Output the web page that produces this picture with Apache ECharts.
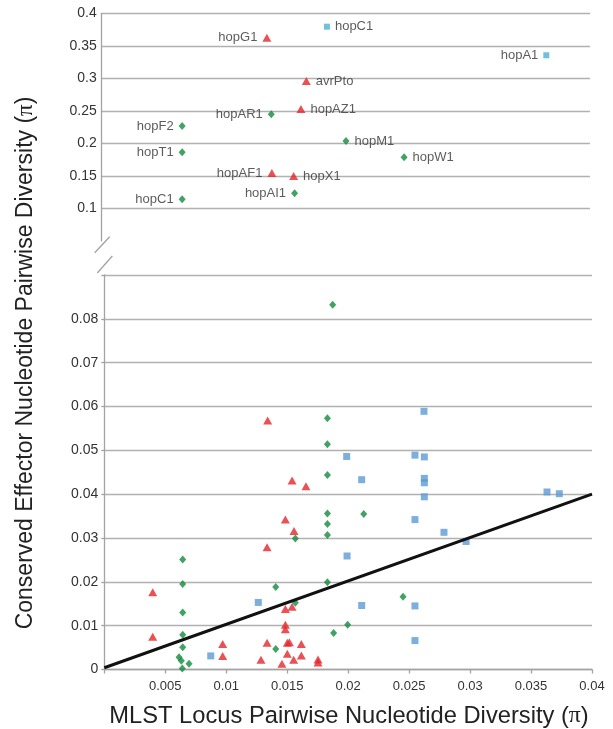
<!DOCTYPE html>
<html><head><meta charset="utf-8">
<script src="https://cdn.jsdelivr.net/npm/echarts@6/dist/echarts.min.js"></script>
<style>html,body{margin:0;padding:0;background:#fff}#c{width:613px;height:729px}</style>
</head><body><div id="c"></div>
<script>
// ---------- data: upper (broken) panel, labelled effectors ----------
const topRedNames = ['hopG1', 'avrPto', 'hopAZ1', 'hopAF1', 'hopX1'];
const topRedX = [0.01353, 0.01676, 0.01632, 0.01394, 0.01572];
const topRedY = [0.3625, 0.2958, 0.2528, 0.1543, 0.1497];

const topGreenNames = ['hopAR1', 'hopF2', 'hopT1', 'hopM1', 'hopW1', 'hopAI1', 'hopC1'];
const topGreenX = [0.01389, 0.00659, 0.00659, 0.02001, 0.02477, 0.0158, 0.00659];
const topGreenY = [0.2446, 0.2266, 0.1862, 0.2035, 0.1785, 0.1231, 0.1138];

const topBlueNames = ['hopC1', 'hopA1'];
const topBlueX = [0.01845, 0.03642];
const topBlueY = [0.3794, 0.3354];

// ---------- data: lower panel ----------
const redX = [0.0134, 0.0154, 0.01654, 0.01485, 0.01556, 0.01335, 0.00397, 0.0154, 0.01485, 0.01485,
              0.01485, 0.00397, 0.00971, 0.00971, 0.01335, 0.01501, 0.01518, 0.01616, 0.01501, 0.01616,
              0.01285, 0.01553, 0.01457, 0.01753, 0.01753];
const redY = [0.0568, 0.0431, 0.0418, 0.0342, 0.0316, 0.0279, 0.0176, 0.0143, 0.0138, 0.0102,
              0.0092, 0.0075, 0.0058, 0.0031, 0.0061, 0.0061, 0.0062, 0.0058, 0.0036, 0.0032,
              0.0022, 0.0022, 0.0013, 0.0023, 0.0016];

const greenX = [0.01873, 0.0183, 0.0183, 0.0183, 0.0183, 0.0183, 0.0183, 0.0183, 0.02128, 0.01567,
                0.01406, 0.01567, 0.0245, 0.01996, 0.01881, 0.01406, 0.00643, 0.00643, 0.00643, 0.00643,
                0.00643, 0.00613, 0.00632, 0.00695, 0.0064];
const greenY = [0.0832, 0.0573, 0.0514, 0.0444, 0.0356, 0.0332, 0.0307, 0.0199, 0.0355, 0.0299,
                0.0188, 0.0152, 0.0166, 0.0102, 0.0083, 0.0047, 0.0251, 0.0195, 0.0130, 0.0079,
                0.0051, 0.0028, 0.0020, 0.0013, 0.0002];

const blueX = [0.02622, 0.01988, 0.02548, 0.02625, 0.02111, 0.02625, 0.02625, 0.02625, 0.03631, 0.03732,
               0.02548, 0.02786, 0.02967, 0.01991, 0.02111, 0.02548, 0.02548, 0.01263, 0.00873];
const blueY = [0.0589, 0.0486, 0.0489, 0.0485, 0.0433, 0.0436, 0.0426, 0.0394, 0.0405, 0.0401,
               0.0342, 0.0313, 0.0292, 0.0259, 0.0146, 0.0145, 0.0066, 0.0153, 0.0031];

// trend line end points
const trendX = [0, 0.04];
const trendY = [0.0004, 0.04];

// axis ranges / ticks
const xMin = 0, xMax = 0.04, xStep = 0.005;
const topYMin = 0.05, topYMax = 0.4, topYStep = 0.05;
const botYMin = 0, botYMax = 0.09, botYStep = 0.01;

// ---------- styles ----------
const RED = '#e4262a', GREEN = '#128b3d', BLUE = '#5b9bd5', LBLUE = '#4bb2d3';
const GRID = '#b1b1b1', AXIS = '#a3a3a3', TXT = '#333';
const leftLabels = {
  red: ['hopG1', 'hopAF1'],
  green: ['hopAR1', 'hopF2', 'hopT1', 'hopAI1', 'hopC1'],
  blue: ['hopA1']
};

function labelled(names, xs, ys, group) {
  return names.map((n, i) => ({
    name: n, value: [xs[i], ys[i]],
    label: { position: leftLabels[group].includes(n) ? 'left' : 'right' }
  }));
}
function pts(xs, ys) { return xs.map((x, i) => [x, ys[i]]); }
const fmt = v => String(+v.toFixed(4));

const chart = echarts.init(document.getElementById('c'), null, { renderer: 'canvas' });

const labelStyle = { show: true, formatter: '{b}', fontSize: 13, color: TXT, distance: 5,
  fontFamily: 'Liberation Sans, Arial, sans-serif' };

const option = {
  animation: false,
  backgroundColor: '#fff',
  grid: [
    { left: 101.7, width: 488.3, top: 13.3, height: 227.5 },
    { left: 104.3, width: 487.7, top: 275, height: 394.5 }
  ],
  xAxis: [
    { gridIndex: 0, type: 'value', min: xMin, max: xMax, interval: xStep, show: false },
    { gridIndex: 1, type: 'value', min: xMin, max: xMax, interval: xStep,
      axisLine: { show: true, onZero: false, lineStyle: { color: AXIS, width: 1.3 } },
      axisTick: { show: true, length: 4, lineStyle: { color: AXIS, width: 1.3 } },
      splitLine: { show: false },
      axisLabel: { fontSize: 13, color: TXT, margin: 10, fontFamily: 'Liberation Sans, Arial, sans-serif',
        formatter: v => (v === 0 ? '' : fmt(v)) } }
  ],
  yAxis: [
    { gridIndex: 0, type: 'value', min: topYMin, max: topYMax, interval: topYStep,
      axisLine: { show: true, lineStyle: { color: AXIS, width: 1.3 } },
      axisTick: { show: false },
      splitLine: { show: true, lineStyle: { width: 1.3,
        color: ['transparent', GRID, GRID, GRID, GRID, GRID, GRID, GRID, GRID] } },
      axisLabel: { fontSize: 14, color: TXT, margin: 5, fontFamily: 'Liberation Sans, Arial, sans-serif',
        formatter: v => (v < 0.075 ? '' : fmt(v)) } },
    { gridIndex: 1, type: 'value', min: botYMin, max: botYMax, interval: botYStep,
      axisLine: { show: true, lineStyle: { color: AXIS, width: 1.3 } },
      axisTick: { show: true, length: 3, lineStyle: { color: AXIS, width: 1.3 } },
      splitLine: { show: true, lineStyle: { color: GRID, width: 1.3 } },
      axisLabel: { fontSize: 14, color: TXT, margin: 6, fontFamily: 'Liberation Sans, Arial, sans-serif',
        formatter: v => (v > 0.085 ? '' : fmt(v)) } }
  ],
  series: [
    { type: 'scatter', xAxisIndex: 0, yAxisIndex: 0, symbol: 'triangle', symbolSize: [9, 8],
      itemStyle: { color: RED }, label: labelStyle, data: labelled(topRedNames, topRedX, topRedY, 'red') },
    { type: 'scatter', xAxisIndex: 0, yAxisIndex: 0, symbol: 'diamond', symbolSize: [7, 8],
      itemStyle: { color: GREEN }, label: labelStyle, data: labelled(topGreenNames, topGreenX, topGreenY, 'green') },
    { type: 'scatter', xAxisIndex: 0, yAxisIndex: 0, symbol: 'rect', symbolSize: 6,
      itemStyle: { color: LBLUE }, label: labelStyle, data: labelled(topBlueNames, topBlueX, topBlueY, 'blue') },

    { type: 'scatter', xAxisIndex: 1, yAxisIndex: 1, symbol: 'triangle', symbolSize: [9, 8],
      itemStyle: { color: RED }, data: pts(redX, redY) },
    { type: 'scatter', xAxisIndex: 1, yAxisIndex: 1, symbol: 'diamond', symbolSize: [7, 8],
      itemStyle: { color: GREEN }, data: pts(greenX, greenY) },
    { type: 'scatter', xAxisIndex: 1, yAxisIndex: 1, symbol: 'rect', symbolSize: 7,
      itemStyle: { color: BLUE }, data: pts(blueX, blueY) },
    { type: 'line', xAxisIndex: 1, yAxisIndex: 1, symbol: 'none', z: 5, silent: true,
      lineStyle: { color: '#111', width: 3 }, data: pts(trendX, trendY) }
  ]
};
chart.setOption(option);

// titles and axis-break marks (decoration)
const topBottom = chart.convertToPixel({ xAxisIndex: 0, yAxisIndex: 0 }, [xMin, topYMin]);
const botTop = chart.convertToPixel({ xAxisIndex: 1, yAxisIndex: 1 }, [xMin, botYMax]);
function richTitle(size) {
  return {
    a: { fontSize: size, fontFamily: 'Liberation Sans, Arial, sans-serif', fill: '#222' },
    p: { fontSize: size, fontFamily: 'Liberation Serif, Times New Roman, serif', fill: '#222' }
  };
}
chart.setOption({
  graphic: [
    { type: 'line', shape: { x1: topBottom[0] - 7, y1: topBottom[1] + 12, x2: topBottom[0] + 8, y2: topBottom[1] - 4 },
      style: { stroke: AXIS, lineWidth: 1.3 } },
    { type: 'line', shape: { x1: botTop[0] - 7, y1: botTop[1] - 2, x2: botTop[0] + 8, y2: botTop[1] - 19 },
      style: { stroke: AXIS, lineWidth: 1.3 } },
    { type: 'text', x: 26, y: 363, rotation: Math.PI / 2,
      style: { text: '{a|Conserved Effector Nucleotide Pairwise Diversity (}{p|π}{a|)}', rich: richTitle(23),
        align: 'center', verticalAlign: 'middle' } },
    { type: 'text', x: 349, y: 716,
      style: { text: '{a|MLST Locus Pairwise Nucleotide Diversity (}{p|π}{a|)}', rich: richTitle(23.7),
        align: 'center', verticalAlign: 'middle' } }
  ]
});
</script></body></html>
